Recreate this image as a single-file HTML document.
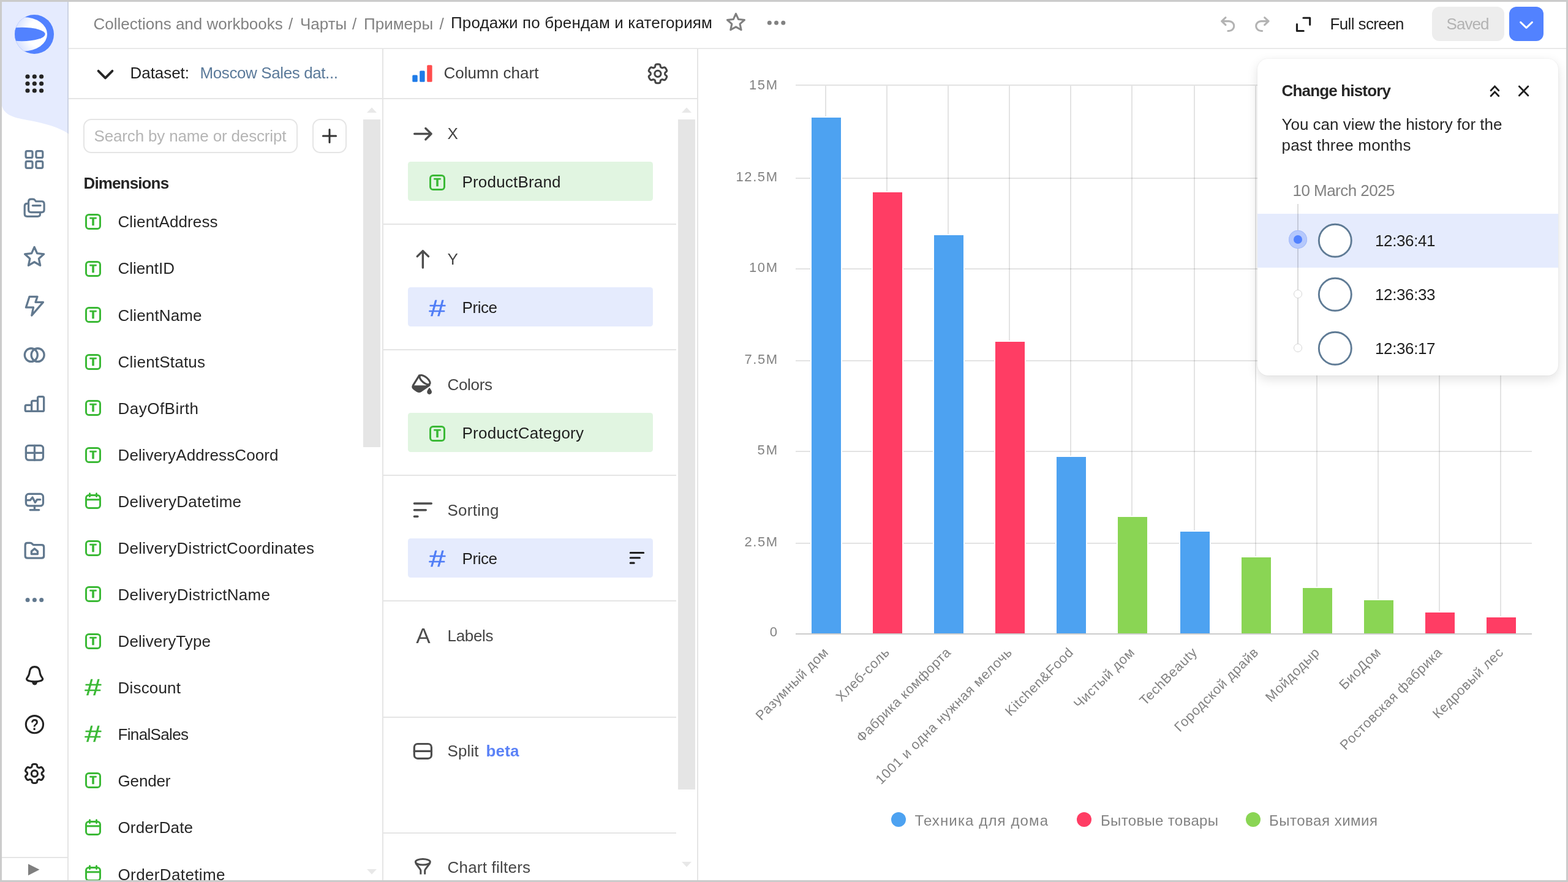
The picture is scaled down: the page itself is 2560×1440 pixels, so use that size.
<!DOCTYPE html>
<html lang="en"><head><meta charset="utf-8"><title>DataLens — Продажи по брендам и категориям</title>
<style>
html,body{margin:0;padding:0;}
body{width:2560px;height:1440px;overflow:hidden;background:#cbcbcb;font-family:"Liberation Sans", sans-serif;position:relative;}
.b{position:absolute;display:block;}
.t{position:absolute;white-space:nowrap;}
.ic *{vector-effect:non-scaling-stroke;}
#app{position:absolute;left:3px;top:3px;width:2554px;height:1434px;background:#fff;overflow:hidden;}
#root{position:absolute;left:-3px;top:-3px;width:2560px;height:1440px;}
</style></head><body><div id="app"><div id="root">
<div class="b" style="left:112px;top:78px;width:2445px;height:1px;background:#f0f0f0;"></div><div class="b" style="left:112px;top:79px;width:2445px;height:1px;background:#e3e3e3;"></div><div class="b" style="left:112px;top:160px;width:1027px;height:2px;background:#e5e5e5;"></div><div class="b" style="left:624px;top:80px;width:2px;height:1357px;background:#e5e5e5;"></div><div class="b" style="left:1138px;top:80px;width:2px;height:1357px;background:#e5e5e5;"></div><svg class="b" style="left:3px;top:3px" width="109" height="220" viewBox="0 0 109 220"><path d="M0 0H109V215.5C93 204.5 70 198.5 47 194C21 189.5 5 186 0 170Z" fill="#e5ebfe"/></svg><div class="b" style="left:110px;top:3px;width:2px;height:1434px;background:rgba(0,0,0,0.105);"></div><svg class="b" style="left:24px;top:24px" width="64" height="64" viewBox="0 0 64 64">
<defs><clipPath id="lc"><circle cx="32" cy="32" r="32"/></clipPath>
<radialGradient id="lg" gradientUnits="userSpaceOnUse" cx="44" cy="30" r="46"><stop offset="0" stop-color="#ffffff"/><stop offset="0.5" stop-color="#ffffff"/><stop offset="1" stop-color="#d3deff"/></radialGradient></defs>
<circle cx="32" cy="32" r="32" fill="#5282ff"/>
<g clip-path="url(#lc)"><ellipse cx="14.3" cy="31.8" rx="38.75" ry="27.9" fill="url(#lg)"/>
<ellipse cx="11.8" cy="31.9" rx="37.9" ry="11.25" fill="#5282ff"/></g></svg><svg class="b" style="left:0;top:0" width="112" height="160" viewBox="0 0 112 160" fill="#242424"><circle cx="45" cy="125" r="3.6"/><circle cx="56.3" cy="125" r="3.6"/><circle cx="67.6" cy="125" r="3.6"/><circle cx="45" cy="136.5" r="3.6"/><circle cx="56.3" cy="136.5" r="3.6"/><circle cx="67.6" cy="136.5" r="3.6"/><circle cx="45" cy="148" r="3.6"/><circle cx="56.3" cy="148" r="3.6"/><circle cx="67.6" cy="148" r="3.6"/></svg><svg class="b" style="left:0;top:0;font-family:'Liberation Sans',sans-serif;overflow:visible" width="10" height="10"><text transform="translate(56.45 1191.6) scale(0.84 1)" text-anchor="middle" font-size="25.6" font-weight="700" fill="#242424">?</text></svg><div class="b" style="left:3px;top:1399px;width:107px;height:2px;background:#e5e5e5;"></div><svg class="b" style="left:46px;top:1410px" width="19" height="20" viewBox="0 0 19 20"><path d="M0 0.5L18.5 9.8L0 19.2Z" fill="#7f7f7f"/></svg><div class="t" style="left:152.5px;top:25.99px;font-size:26px;line-height:26px;color:#828282;">Collections and workbooks</div><div class="t" style="left:471px;top:25.99px;font-size:26px;line-height:26px;color:#828282;">/</div><div class="t" style="left:490px;top:25.99px;font-size:26px;line-height:26px;color:#828282;">Чарты</div><div class="t" style="left:575px;top:25.99px;font-size:26px;line-height:26px;color:#828282;">/</div><div class="t" style="left:594px;top:25.99px;font-size:26px;line-height:26px;color:#828282;">Примеры</div><div class="t" style="left:717.5px;top:25.99px;font-size:26px;line-height:26px;color:#828282;">/</div><div class="t" style="left:736px;top:24.49px;font-size:26px;line-height:26px;color:#1f1f1f;letter-spacing:0.15px;">Продажи по брендам и категориям</div><div class="t" style="left:2171.5px;top:26.49px;font-size:26px;line-height:26px;color:#1f1f1f;letter-spacing:-0.616px;">Full screen</div><div class="b" style="left:2338px;top:11px;width:118px;height:56px;background:#ededed;border-radius:12px;"></div><div class="t" style="left:2361.5px;top:26.49px;font-size:26px;line-height:26px;color:#b3b3b3;letter-spacing:-0.931px;">Saved</div><div class="b" style="left:2464px;top:11px;width:56px;height:56px;background:#5282ff;border-radius:12px;"></div><svg class="b" style="left:2476px;top:24px" width="32" height="32" viewBox="0 0 16 16" fill="none" stroke="#fff" stroke-width="1.5" stroke-linecap="round" stroke-linejoin="round"><path d="M3.3 6.2L8 10.7L12.7 6.2"/></svg><svg class="b" style="left:156px;top:105px" width="32" height="32" viewBox="0 0 16 16" fill="none" stroke="#262626" stroke-width="1.95" stroke-linecap="round" stroke-linejoin="round"><path d="M2.3 5.4L8 11.2L13.7 5.4"/></svg><div class="t" style="left:212.5px;top:106.49px;font-size:26px;line-height:26px;color:#1f1f1f;letter-spacing:-0.047px;">Dataset:</div><div class="t" style="left:326.5px;top:106.49px;font-size:26px;line-height:26px;color:#5b7a9a;letter-spacing:-0.398px;">Moscow Sales dat...</div><div class="b" style="left:136px;top:194px;width:350px;height:56px;background:#fff;box-sizing:border-box;border:2px solid #e5e5e5;border-radius:13px;"></div><div class="t" style="left:153.5px;top:208.99px;font-size:26px;line-height:26px;color:#b5b5b5;letter-spacing:-0.157px;">Search by name or descript</div><div class="b" style="left:510px;top:194px;width:56px;height:56px;background:#fff;box-sizing:border-box;border:2px solid #e5e5e5;border-radius:13px;"></div><svg class="b" style="left:522px;top:206px" width="32" height="32" viewBox="0 0 16 16" fill="none" stroke="#333" stroke-width="1.5" stroke-linecap="round"><path d="M8 2.7V13.3M2.7 8H13.3"/></svg><div class="t" style="left:136.5px;top:285.59px;font-size:26px;line-height:26px;color:#262626;font-weight:700;letter-spacing:-0.864px;">Dimensions</div><div class="b" style="left:593px;top:195px;width:28px;height:535px;background:#e5e5e5;"></div><svg class="b" style="left:599px;top:175px" width="16" height="9" viewBox="0 0 16 9"><path d="M0 9L8 0.5L16 9Z" fill="#e8e8e8"/></svg><svg class="b" style="left:599px;top:1419px" width="16" height="9" viewBox="0 0 16 9"><path d="M0 0L8 8.5L16 0Z" fill="#e8e8e8"/></svg><div class="b" style="left:1107px;top:195px;width:28px;height:1094px;background:#e5e5e5;"></div><svg class="b" style="left:1113px;top:175px" width="16" height="9" viewBox="0 0 16 9"><path d="M0 9L8 0.5L16 9Z" fill="#e8e8e8"/></svg><svg class="b" style="left:1113px;top:1407px" width="16" height="9" viewBox="0 0 16 9"><path d="M0 0L8 8.5L16 0Z" fill="#e8e8e8"/></svg><svg class="b" style="left:136px;top:346.1px;font-family:'Liberation Sans',sans-serif" width="32" height="32" viewBox="0 0 16 16" fill="none" stroke="#3bb936" stroke-width="1.5" stroke-linecap="round" stroke-linejoin="round"><rect x="2.25" y="2.25" width="11.5" height="11.5" rx="2.3"/><text x="8" y="11.15" text-anchor="middle" font-size="9" font-weight="700" fill="#3bb936" stroke-width="0.36">T</text></svg><div class="t" style="left:192.5px;top:349.39px;font-size:26px;line-height:26px;color:#262626;letter-spacing:0.095px;">ClientAddress</div><svg class="b" style="left:136px;top:422.70000000000005px;font-family:'Liberation Sans',sans-serif" width="32" height="32" viewBox="0 0 16 16" fill="none" stroke="#3bb936" stroke-width="1.5" stroke-linecap="round" stroke-linejoin="round"><rect x="2.25" y="2.25" width="11.5" height="11.5" rx="2.3"/><text x="8" y="11.15" text-anchor="middle" font-size="9" font-weight="700" fill="#3bb936" stroke-width="0.36">T</text></svg><div class="t" style="left:192.5px;top:425.47px;font-size:26px;line-height:26px;color:#262626;letter-spacing:0.003px;">ClientID</div><svg class="b" style="left:136px;top:498.1px;font-family:'Liberation Sans',sans-serif" width="32" height="32" viewBox="0 0 16 16" fill="none" stroke="#3bb936" stroke-width="1.5" stroke-linecap="round" stroke-linejoin="round"><rect x="2.25" y="2.25" width="11.5" height="11.5" rx="2.3"/><text x="8" y="11.15" text-anchor="middle" font-size="9" font-weight="700" fill="#3bb936" stroke-width="0.36">T</text></svg><div class="t" style="left:192.5px;top:501.55px;font-size:26px;line-height:26px;color:#262626;letter-spacing:0.13px;">ClientName</div><svg class="b" style="left:136px;top:574.7px;font-family:'Liberation Sans',sans-serif" width="32" height="32" viewBox="0 0 16 16" fill="none" stroke="#3bb936" stroke-width="1.5" stroke-linecap="round" stroke-linejoin="round"><rect x="2.25" y="2.25" width="11.5" height="11.5" rx="2.3"/><text x="8" y="11.15" text-anchor="middle" font-size="9" font-weight="700" fill="#3bb936" stroke-width="0.36">T</text></svg><div class="t" style="left:192.5px;top:577.63px;font-size:26px;line-height:26px;color:#262626;letter-spacing:0.21px;">ClientStatus</div><svg class="b" style="left:136px;top:650.1px;font-family:'Liberation Sans',sans-serif" width="32" height="32" viewBox="0 0 16 16" fill="none" stroke="#3bb936" stroke-width="1.5" stroke-linecap="round" stroke-linejoin="round"><rect x="2.25" y="2.25" width="11.5" height="11.5" rx="2.3"/><text x="8" y="11.15" text-anchor="middle" font-size="9" font-weight="700" fill="#3bb936" stroke-width="0.36">T</text></svg><div class="t" style="left:192.5px;top:653.71px;font-size:26px;line-height:26px;color:#262626;letter-spacing:0.484px;">DayOfBirth</div><svg class="b" style="left:136px;top:726.7px;font-family:'Liberation Sans',sans-serif" width="32" height="32" viewBox="0 0 16 16" fill="none" stroke="#3bb936" stroke-width="1.5" stroke-linecap="round" stroke-linejoin="round"><rect x="2.25" y="2.25" width="11.5" height="11.5" rx="2.3"/><text x="8" y="11.15" text-anchor="middle" font-size="9" font-weight="700" fill="#3bb936" stroke-width="0.36">T</text></svg><div class="t" style="left:192.5px;top:729.79px;font-size:26px;line-height:26px;color:#262626;letter-spacing:0.1px;">DeliveryAddressCoord</div><svg class="b" style="left:136px;top:802.1px" width="32" height="32" viewBox="0 0 16 16" fill="none" stroke="#3bb936" stroke-width="1.5" stroke-linecap="round" stroke-linejoin="round"><rect x="2.25" y="3.25" width="11.5" height="10.5" rx="2.3"/><path d="M2.5 6.9H13.5M5.25 1.9V4.3M10.75 1.9V4.3"/></svg><div class="t" style="left:192.5px;top:805.87px;font-size:26px;line-height:26px;color:#262626;letter-spacing:0.237px;">DeliveryDatetime</div><svg class="b" style="left:136px;top:878.7px;font-family:'Liberation Sans',sans-serif" width="32" height="32" viewBox="0 0 16 16" fill="none" stroke="#3bb936" stroke-width="1.5" stroke-linecap="round" stroke-linejoin="round"><rect x="2.25" y="2.25" width="11.5" height="11.5" rx="2.3"/><text x="8" y="11.15" text-anchor="middle" font-size="9" font-weight="700" fill="#3bb936" stroke-width="0.36">T</text></svg><div class="t" style="left:192.5px;top:881.95px;font-size:26px;line-height:26px;color:#262626;letter-spacing:0.267px;">DeliveryDistrictCoordinates</div><svg class="b" style="left:136px;top:954.1px;font-family:'Liberation Sans',sans-serif" width="32" height="32" viewBox="0 0 16 16" fill="none" stroke="#3bb936" stroke-width="1.5" stroke-linecap="round" stroke-linejoin="round"><rect x="2.25" y="2.25" width="11.5" height="11.5" rx="2.3"/><text x="8" y="11.15" text-anchor="middle" font-size="9" font-weight="700" fill="#3bb936" stroke-width="0.36">T</text></svg><div class="t" style="left:192.5px;top:958.03px;font-size:26px;line-height:26px;color:#262626;letter-spacing:0.305px;">DeliveryDistrictName</div><svg class="b" style="left:136px;top:1030.6999999999998px;font-family:'Liberation Sans',sans-serif" width="32" height="32" viewBox="0 0 16 16" fill="none" stroke="#3bb936" stroke-width="1.5" stroke-linecap="round" stroke-linejoin="round"><rect x="2.25" y="2.25" width="11.5" height="11.5" rx="2.3"/><text x="8" y="11.15" text-anchor="middle" font-size="9" font-weight="700" fill="#3bb936" stroke-width="0.36">T</text></svg><div class="t" style="left:192.5px;top:1034.11px;font-size:26px;line-height:26px;color:#262626;letter-spacing:0.111px;">DeliveryType</div><svg class="b" style="left:0;top:0;font-family:'Liberation Sans',sans-serif;overflow:visible" width="10" height="10"><text transform="translate(138.56 1134.65) scale(1.32 1)" font-size="36.6" fill="#3bb936" stroke="#3bb936" stroke-width="0.5" stroke-linejoin="round">#</text></svg><div class="t" style="left:192.5px;top:1110.19px;font-size:26px;line-height:26px;color:#262626;letter-spacing:0.192px;">Discount</div><svg class="b" style="left:0;top:0;font-family:'Liberation Sans',sans-serif;overflow:visible" width="10" height="10"><text transform="translate(138.56 1211.25) scale(1.32 1)" font-size="36.6" fill="#3bb936" stroke="#3bb936" stroke-width="0.5" stroke-linejoin="round">#</text></svg><div class="t" style="left:192.5px;top:1186.27px;font-size:26px;line-height:26px;color:#262626;letter-spacing:-0.655px;">FinalSales</div><svg class="b" style="left:136px;top:1258.1px;font-family:'Liberation Sans',sans-serif" width="32" height="32" viewBox="0 0 16 16" fill="none" stroke="#3bb936" stroke-width="1.5" stroke-linecap="round" stroke-linejoin="round"><rect x="2.25" y="2.25" width="11.5" height="11.5" rx="2.3"/><text x="8" y="11.15" text-anchor="middle" font-size="9" font-weight="700" fill="#3bb936" stroke-width="0.36">T</text></svg><div class="t" style="left:192.5px;top:1262.35px;font-size:26px;line-height:26px;color:#262626;letter-spacing:-0.145px;">Gender</div><svg class="b" style="left:136px;top:1334.6999999999998px" width="32" height="32" viewBox="0 0 16 16" fill="none" stroke="#3bb936" stroke-width="1.5" stroke-linecap="round" stroke-linejoin="round"><rect x="2.25" y="3.25" width="11.5" height="10.5" rx="2.3"/><path d="M2.5 6.9H13.5M5.25 1.9V4.3M10.75 1.9V4.3"/></svg><div class="t" style="left:192.5px;top:1338.43px;font-size:26px;line-height:26px;color:#262626;letter-spacing:0.14px;">OrderDate</div><svg class="b" style="left:136px;top:1410.1px" width="32" height="32" viewBox="0 0 16 16" fill="none" stroke="#3bb936" stroke-width="1.5" stroke-linecap="round" stroke-linejoin="round"><rect x="2.25" y="3.25" width="11.5" height="10.5" rx="2.3"/><path d="M2.5 6.9H13.5M5.25 1.9V4.3M10.75 1.9V4.3"/></svg><div class="t" style="left:192.5px;top:1414.51px;font-size:26px;line-height:26px;color:#262626;letter-spacing:0.375px;">OrderDatetime</div><svg class="b" style="left:673px;top:106px" width="33" height="28" viewBox="0 0 33 28"><rect x="0.3" y="16.4" width="8.4" height="11.4" rx="1.6" fill="#1f7be8"/><rect x="12.2" y="9.4" width="8.4" height="18.4" rx="1.6" fill="#1f7be8"/><rect x="24.2" y="0.2" width="8.4" height="27.6" rx="1.6" fill="#ff4d4d"/></svg><div class="t" style="left:724.5px;top:106.49px;font-size:26px;line-height:26px;color:#3d3d3d;letter-spacing:0.034px;">Column chart</div><div class="t" style="left:730.5px;top:205.49px;font-size:26px;line-height:26px;color:#454545;">X</div><div class="b" style="left:666px;top:264.2px;width:400px;height:64px;background:#e1f5e1;border-radius:4.5px;"></div><svg class="b" style="left:698px;top:282.2px;font-family:'Liberation Sans',sans-serif" width="32" height="32" viewBox="0 0 16 16" fill="none" stroke="#3bb936" stroke-width="1.5" stroke-linecap="round" stroke-linejoin="round"><rect x="2.25" y="2.25" width="11.5" height="11.5" rx="2.3"/><text x="8" y="11.15" text-anchor="middle" font-size="9" font-weight="700" fill="#3bb936" stroke-width="0.36">T</text></svg><div class="t" style="left:754.5px;top:284.09px;font-size:26px;line-height:26px;color:#1f1f1f;letter-spacing:0.183px;">ProductBrand</div><div class="b" style="left:626px;top:365px;width:478px;height:2px;background:#e5e5e5;"></div><div class="t" style="left:730.5px;top:409.99px;font-size:26px;line-height:26px;color:#454545;">Y</div><div class="b" style="left:666px;top:469px;width:400px;height:64px;background:#e5ebfd;border-radius:4.5px;"></div><svg class="b" style="left:0;top:0;font-family:'Liberation Sans',sans-serif;overflow:visible" width="10" height="10"><text transform="translate(700.56 515.55) scale(1.32 1)" font-size="36.6" fill="#4f7df6" stroke="#4f7df6" stroke-width="0.5" stroke-linejoin="round">#</text></svg><div class="t" style="left:754.5px;top:488.89px;font-size:26px;line-height:26px;color:#1f1f1f;letter-spacing:-0.434px;">Price</div><div class="b" style="left:626px;top:570px;width:478px;height:2px;background:#e5e5e5;"></div><div class="t" style="left:730.5px;top:614.99px;font-size:26px;line-height:26px;color:#454545;letter-spacing:-0.327px;">Colors</div><div class="b" style="left:666px;top:674px;width:400px;height:64px;background:#e1f5e1;border-radius:4.5px;"></div><svg class="b" style="left:698px;top:692px;font-family:'Liberation Sans',sans-serif" width="32" height="32" viewBox="0 0 16 16" fill="none" stroke="#3bb936" stroke-width="1.5" stroke-linecap="round" stroke-linejoin="round"><rect x="2.25" y="2.25" width="11.5" height="11.5" rx="2.3"/><text x="8" y="11.15" text-anchor="middle" font-size="9" font-weight="700" fill="#3bb936" stroke-width="0.36">T</text></svg><div class="t" style="left:754.5px;top:693.89px;font-size:26px;line-height:26px;color:#1f1f1f;letter-spacing:0.242px;">ProductCategory</div><div class="b" style="left:626px;top:775px;width:478px;height:2px;background:#e5e5e5;"></div><div class="t" style="left:730.5px;top:819.99px;font-size:26px;line-height:26px;color:#454545;letter-spacing:0.27px;">Sorting</div><div class="b" style="left:666px;top:878.8px;width:400px;height:64px;background:#e5ebfd;border-radius:4.5px;"></div><svg class="b" style="left:0;top:0;font-family:'Liberation Sans',sans-serif;overflow:visible" width="10" height="10"><text transform="translate(700.56 925.35) scale(1.32 1)" font-size="36.6" fill="#4f7df6" stroke="#4f7df6" stroke-width="0.5" stroke-linejoin="round">#</text></svg><div class="t" style="left:754.5px;top:898.69px;font-size:26px;line-height:26px;color:#1f1f1f;letter-spacing:-0.434px;">Price</div><div class="b" style="left:626px;top:979.5px;width:478px;height:2px;background:#e5e5e5;"></div><div class="t" style="left:679.3px;top:1020.37px;font-size:35px;line-height:35px;color:#4d4d4d;">A</div><div class="t" style="left:730.5px;top:1024.99px;font-size:26px;line-height:26px;color:#454545;letter-spacing:-0.324px;">Labels</div><div class="b" style="left:626px;top:1170px;width:478px;height:2px;background:#e5e5e5;"></div><div class="t" style="left:730.5px;top:1213.49px;font-size:26px;line-height:26px;color:#454545;letter-spacing:0.105px;">Split</div><div class="t" style="left:793.5px;top:1213.49px;font-size:26px;line-height:26px;color:#5b82f7;font-weight:700;letter-spacing:0.18px;">beta</div><div class="b" style="left:626px;top:1359px;width:478px;height:2px;background:#e5e5e5;"></div><div class="t" style="left:730.5px;top:1402.99px;font-size:26px;line-height:26px;color:#454545;letter-spacing:0.215px;">Chart filters</div><svg class="b" style="left:0;top:0" width="2560" height="1440" viewBox="0 0 2560 1440"><rect x="1299" y="138" width="1202" height="2" fill="rgba(0,0,0,0.11)"/><rect x="1299" y="290" width="1202" height="2" fill="rgba(0,0,0,0.11)"/><rect x="1299" y="438" width="1202" height="2" fill="rgba(0,0,0,0.11)"/><rect x="1299" y="588" width="1202" height="2" fill="rgba(0,0,0,0.11)"/><rect x="1299" y="736" width="1202" height="2" fill="rgba(0,0,0,0.11)"/><rect x="1299" y="886" width="1202" height="2" fill="rgba(0,0,0,0.11)"/><rect x="1347" y="140" width="2" height="894" fill="rgba(0,0,0,0.11)"/><rect x="1447" y="140" width="2" height="894" fill="rgba(0,0,0,0.11)"/><rect x="1547" y="140" width="2" height="894" fill="rgba(0,0,0,0.11)"/><rect x="1647" y="140" width="2" height="894" fill="rgba(0,0,0,0.11)"/><rect x="1747" y="140" width="2" height="894" fill="rgba(0,0,0,0.11)"/><rect x="1847" y="140" width="2" height="894" fill="rgba(0,0,0,0.11)"/><rect x="1949" y="140" width="2" height="894" fill="rgba(0,0,0,0.11)"/><rect x="2049" y="140" width="2" height="894" fill="rgba(0,0,0,0.11)"/><rect x="2149" y="140" width="2" height="894" fill="rgba(0,0,0,0.11)"/><rect x="2249" y="140" width="2" height="894" fill="rgba(0,0,0,0.11)"/><rect x="2349" y="140" width="2" height="894" fill="rgba(0,0,0,0.11)"/><rect x="2449" y="140" width="2" height="894" fill="rgba(0,0,0,0.11)"/><rect x="1299" y="1034" width="1202" height="2" fill="#cccccc"/><rect x="1323" y="190" width="52" height="844" fill="#fff"/><rect x="1325" y="192" width="48" height="842" fill="#4da2f1"/><rect x="1423" y="312" width="52" height="722" fill="#fff"/><rect x="1425" y="314" width="48" height="720" fill="#ff3d64"/><rect x="1523" y="382" width="52" height="652" fill="#fff"/><rect x="1525" y="384" width="48" height="650" fill="#4da2f1"/><rect x="1623" y="556" width="52" height="478" fill="#fff"/><rect x="1625" y="558" width="48" height="476" fill="#ff3d64"/><rect x="1723" y="744" width="52" height="290" fill="#fff"/><rect x="1725" y="746" width="48" height="288" fill="#4da2f1"/><rect x="1823" y="842" width="52" height="192" fill="#fff"/><rect x="1825" y="844" width="48" height="190" fill="#8ad554"/><rect x="1925" y="866" width="52" height="168" fill="#fff"/><rect x="1927" y="868" width="48" height="166" fill="#4da2f1"/><rect x="2025" y="908" width="52" height="126" fill="#fff"/><rect x="2027" y="910" width="48" height="124" fill="#8ad554"/><rect x="2125" y="958" width="52" height="76" fill="#fff"/><rect x="2127" y="960" width="48" height="74" fill="#8ad554"/><rect x="2225" y="978" width="52" height="56" fill="#fff"/><rect x="2227" y="980" width="48" height="54" fill="#8ad554"/><rect x="2325" y="998" width="52" height="36" fill="#fff"/><rect x="2327" y="1000" width="48" height="34" fill="#ff3d64"/><rect x="2425" y="1006" width="52" height="28" fill="#fff"/><rect x="2427" y="1008" width="48" height="26" fill="#ff3d64"/></svg><div class="t" style="right:1289.399px;top:127.63px;font-size:22px;line-height:22px;color:#828282;letter-spacing:1.601px;">15M</div><div class="t" style="right:1289.412px;top:277.63px;font-size:22px;line-height:22px;color:#828282;letter-spacing:1.588px;">12.5M</div><div class="t" style="right:1289.399px;top:425.88px;font-size:22px;line-height:22px;color:#828282;letter-spacing:1.601px;">10M</div><div class="t" style="right:1289.47px;top:575.88px;font-size:22px;line-height:22px;color:#828282;letter-spacing:1.53px;">7.5M</div><div class="t" style="right:1289.062px;top:723.88px;font-size:22px;line-height:22px;color:#828282;letter-spacing:1.938px;">5M</div><div class="t" style="right:1289.47px;top:873.88px;font-size:22px;line-height:22px;color:#828282;letter-spacing:1.53px;">2.5M</div><div class="t" style="right:1291px;top:1021.38px;font-size:22px;line-height:22px;color:#828282;">0</div><svg class="b" style="left:0;top:0;font-size:22px;font-family:'Liberation Sans',sans-serif" width="2560" height="1440" viewBox="0 0 2560 1440" fill="#828282"><text x="1354" y="1066.2" text-anchor="end" transform="rotate(-45 1354 1066.2)" letter-spacing="0.75">Разумный дом</text><text x="1454" y="1066.2" text-anchor="end" transform="rotate(-45 1454 1066.2)" letter-spacing="0.75">Хлеб-соль</text><text x="1554" y="1066.2" text-anchor="end" transform="rotate(-45 1554 1066.2)" letter-spacing="0.75">Фабрика комфорта</text><text x="1654" y="1066.2" text-anchor="end" transform="rotate(-45 1654 1066.2)" letter-spacing="0.85">1001 и одна нужная мелочь</text><text x="1754" y="1066.2" text-anchor="end" transform="rotate(-45 1754 1066.2)" letter-spacing="0.75">Kitchen&amp;Food</text><text x="1854" y="1066.2" text-anchor="end" transform="rotate(-45 1854 1066.2)" letter-spacing="0.75">Чистый дом</text><text x="1956" y="1066.2" text-anchor="end" transform="rotate(-45 1956 1066.2)" letter-spacing="0.75">TechBeauty</text><text x="2056" y="1066.2" text-anchor="end" transform="rotate(-45 2056 1066.2)" letter-spacing="0.75">Городской драйв</text><text x="2156" y="1066.2" text-anchor="end" transform="rotate(-45 2156 1066.2)" letter-spacing="0.75">Мойдодыр</text><text x="2256" y="1066.2" text-anchor="end" transform="rotate(-45 2256 1066.2)" letter-spacing="0.75">БиоДом</text><text x="2356" y="1066.2" text-anchor="end" transform="rotate(-45 2356 1066.2)" letter-spacing="0.75">Ростовская фабрика</text><text x="2456" y="1066.2" text-anchor="end" transform="rotate(-45 2456 1066.2)" letter-spacing="0.75">Кедровый лес</text></svg><div class="b" style="left:1455px;top:1326px;width:24px;height:24px;background:#4da2f1;border-radius:50%;"></div><div class="t" style="left:1493.5px;top:1327.68px;font-size:24px;line-height:24px;color:#828282;letter-spacing:1.119px;">Техника для дома</div><div class="b" style="left:1758px;top:1326px;width:24px;height:24px;background:#ff3d64;border-radius:50%;"></div><div class="t" style="left:1797px;top:1327.68px;font-size:24px;line-height:24px;color:#828282;letter-spacing:0.34px;">Бытовые товары</div><div class="b" style="left:2034px;top:1326px;width:24px;height:24px;background:#8ad554;border-radius:50%;"></div><div class="t" style="left:2072px;top:1327.68px;font-size:24px;line-height:24px;color:#828282;letter-spacing:0.51px;">Бытовая химия</div><div class="b" style="left:2053px;top:96px;width:491px;height:517px;background:#fff;border-radius:17px;box-shadow:0 6px 18px rgba(0,0,0,0.12),0 0 2px rgba(0,0,0,0.08);"></div><div class="t" style="left:2092.5px;top:134.99px;font-size:26px;line-height:26px;color:#262626;font-weight:700;letter-spacing:-0.827px;">Change history</div><div class="t" style="left:2092.5px;top:190.29px;font-size:26px;line-height:26px;color:#262626;letter-spacing:-0.012px;">You can view the history for the</div><div class="t" style="left:2092.5px;top:224.29px;font-size:26px;line-height:26px;color:#262626;letter-spacing:0.18px;">past three months</div><div class="t" style="left:2110.5px;top:298.19px;font-size:26px;line-height:26px;color:#828282;letter-spacing:-0.537px;">10 March 2025</div><div class="b" style="left:2053px;top:349px;width:491px;height:87.5px;background:#e5ebfd;"></div><div class="b" style="left:2118.2px;top:333px;width:2px;height:232px;background:rgba(0,0,0,0.14);"></div><div class="b" style="left:2104.2px;top:376px;width:30px;height:30px;background:#b5c8fc;border-radius:50%;box-shadow:inset 0 0 0 1px #a3baf9;"></div><div class="b" style="left:2111.9px;top:383.6px;width:14.6px;height:14.6px;background:#5282ff;border-radius:50%;"></div><div class="b" style="left:2112.2px;top:472.5px;width:14px;height:14px;background:#fff;box-sizing:border-box;border:1.5px solid #d6d6d6;border-radius:50%;"></div><div class="b" style="left:2112.2px;top:560.5px;width:14px;height:14px;background:#fff;box-sizing:border-box;border:1.5px solid #d6d6d6;border-radius:50%;"></div><div class="t" style="left:2245px;top:380.09px;font-size:26px;line-height:26px;color:#1f1f1f;letter-spacing:-0.387px;">12:36:41</div><div class="t" style="left:2245px;top:468.09px;font-size:26px;line-height:26px;color:#1f1f1f;letter-spacing:-0.387px;">12:36:33</div><div class="t" style="left:2245px;top:556.09px;font-size:26px;line-height:26px;color:#1f1f1f;letter-spacing:-0.387px;">12:36:17</div><svg class="b ic" style="left:0;top:0" width="2560" height="1440" viewBox="0 0 2560 1440"><g transform="translate(30.392 236.369) scale(0.03693 0.03693)" stroke="#62798f" stroke-width="3.2" fill="none" stroke-linecap="round" stroke-linejoin="round"><rect x="317" y="277" width="295" height="295" rx="62"/><rect x="772" y="277" width="295" height="295" rx="62"/><rect x="317" y="732" width="295" height="295" rx="62"/><rect x="772" y="732" width="295" height="295" rx="62"/></g><g transform="translate(29.879 313.960) scale(0.03753 0.03747)" stroke="#62798f" stroke-width="3.2" fill="none" stroke-linecap="round" stroke-linejoin="round"><path d="M445 760V410Q445 300 555 300H640Q690 300 725 345L765 395H1015Q1125 395 1125 505V760Q1125 870 1015 870H555Q445 870 445 760Z"/><path d="M410 490H385Q275 490 275 600V940Q275 1050 385 1050H840Q950 1050 950 940V900"/><path d="M625 578H965"/></g><g transform="translate(56.100 419.934) scale(0.16349 0.16584)" stroke="#62798f" stroke-width="3.3" fill="none" stroke-linecap="round" stroke-linejoin="round"><path d="M0.00 -100.00L27.63 -38.02L95.11 -30.90L44.70 14.52L58.78 80.90L0.00 47.00L-58.78 80.90L-44.70 14.52L-95.11 -30.90L-27.63 -38.02Z"/></g><g transform="translate(28.282 393.098) scale(0.09350 0.09345)" stroke="#62798f" stroke-width="3.3" fill="none" stroke-linecap="round" stroke-linejoin="round"><path d="M212 976H350L318 1073H451L252 1304L280 1165H151Z"/></g><g transform="translate(28.311 555.596) scale(0.09327 0.09602)" stroke="#62798f" stroke-width="3.3" fill="none" stroke-linecap="round" stroke-linejoin="round"><circle cx="241" cy="250" r="113"/><circle cx="357" cy="250" r="113"/></g><g transform="translate(28.239 557.178) scale(0.09356 0.09336)" stroke="#62798f" stroke-width="3.3" fill="none" stroke-linecap="round" stroke-linejoin="round"><path d="M162 1224H440Q464 1224 464 1200V992Q464 968 440 968H380Q356 968 356 992V1041H274Q250 1041 250 1065V1116H162Q138 1116 138 1140V1200Q138 1224 162 1224Z"/><path d="M250 1116V1224M356 1041V1224"/></g><g transform="translate(28.282 716.243) scale(0.09350 0.09333)" stroke="#62798f" stroke-width="3.3" fill="none" stroke-linecap="round" stroke-linejoin="round"><rect x="151" y="119" width="300" height="255" rx="50"/><path d="M301 119V374M151 247H451"/></g><g transform="translate(28.282 717.018) scale(0.09350 0.09355)" stroke="#62798f" stroke-width="3.3" fill="none" stroke-linecap="round" stroke-linejoin="round"><rect x="151" y="956" width="300" height="208" rx="50"/><path d="M301 1164V1235M223 1235H379M151 1065H225L265 1015L312 1105L345 1055H400"/></g><g transform="translate(28.239 872.297) scale(0.09356 0.09340)" stroke="#62798f" stroke-width="3.3" fill="none" stroke-linecap="round" stroke-linejoin="round"><path d="M138 376V191Q138 151 178 151H225Q245 151 258 165L280 186H424Q464 186 464 226V376Q464 416 424 416H178Q138 416 138 376Z"/><path d="M301 252L355 298V345H247V298Z"/></g><g transform="translate(0.000 0.000) scale(1.00000)" stroke="none" stroke-width="0" fill="#62798f" stroke-linecap="round" stroke-linejoin="round"><circle cx="45.1" cy="979.5" r="3.5"/><circle cx="56.4" cy="979.5" r="3.5"/><circle cx="67.7" cy="979.5" r="3.5"/></g><g transform="translate(27.656 1076.009) scale(0.09656 0.09433)" stroke="#242424" stroke-width="3.1" fill="none" stroke-linecap="round" stroke-linejoin="round"><path d="M300 134C250 134 222 165 215 215C210 255 205 285 175 320C155 345 165 368 195 375C260 392 340 392 405 375C435 368 445 345 425 320C395 285 390 255 385 215C378 165 350 134 300 134Z"/><path d="M268 398Q300 404 332 398Q322 434 300 434Q278 434 268 398Z" fill="#242424"/></g><g transform="translate(28.081 1076.857) scale(0.09417 0.09367)" stroke="#242424" stroke-width="3.1" fill="none" stroke-linecap="round" stroke-linejoin="round"><circle cx="301" cy="1130" r="150"/></g><g transform="translate(56.375 1263.000) scale(1.03238 1.00980)" stroke="#242424" stroke-width="3.1" fill="none" stroke-linecap="round" stroke-linejoin="round"><path d="M11.40 0.00L11.40 -0.30L11.42 -0.60L11.45 -0.90L11.52 -1.21L11.67 -1.54L11.93 -1.89L12.36 -2.29L12.95 -2.75L13.57 -3.26L14.04 -3.76L14.29 -4.23L14.36 -4.67L14.33 -5.07L14.24 -5.47L14.11 -5.85L13.97 -6.22L13.80 -6.58L13.63 -6.95L13.45 -7.30L13.25 -7.65L13.04 -7.99L12.83 -8.33L12.60 -8.66L12.37 -8.99L12.12 -9.30L11.85 -9.60L11.56 -9.87L11.22 -10.10L10.81 -10.26L10.28 -10.28L9.61 -10.12L8.86 -9.84L8.16 -9.56L7.60 -9.38L7.16 -9.33L6.81 -9.37L6.51 -9.47L6.23 -9.59L5.96 -9.73L5.70 -9.87L5.44 -10.03L5.19 -10.19L4.95 -10.37L4.71 -10.59L4.50 -10.87L4.33 -11.27L4.20 -11.85L4.09 -12.59L3.96 -13.38L3.76 -14.04L3.48 -14.49L3.14 -14.77L2.77 -14.95L2.39 -15.06L1.99 -15.15L1.60 -15.20L1.20 -15.25L0.80 -15.28L0.40 -15.29L0.00 -15.30L-0.40 -15.29L-0.80 -15.28L-1.20 -15.25L-1.60 -15.20L-1.99 -15.15L-2.39 -15.06L-2.77 -14.95L-3.14 -14.77L-3.48 -14.49L-3.76 -14.04L-3.96 -13.38L-4.09 -12.59L-4.20 -11.85L-4.33 -11.27L-4.50 -10.87L-4.71 -10.59L-4.95 -10.37L-5.19 -10.19L-5.44 -10.03L-5.70 -9.87L-5.96 -9.73L-6.23 -9.59L-6.51 -9.47L-6.81 -9.37L-7.16 -9.33L-7.60 -9.38L-8.16 -9.56L-8.86 -9.84L-9.61 -10.12L-10.28 -10.28L-10.81 -10.26L-11.22 -10.10L-11.56 -9.87L-11.85 -9.60L-12.12 -9.30L-12.37 -8.99L-12.60 -8.66L-12.83 -8.33L-13.04 -7.99L-13.25 -7.65L-13.45 -7.30L-13.63 -6.95L-13.80 -6.58L-13.97 -6.22L-14.11 -5.85L-14.24 -5.47L-14.33 -5.07L-14.36 -4.67L-14.29 -4.23L-14.04 -3.76L-13.57 -3.26L-12.95 -2.75L-12.36 -2.29L-11.93 -1.89L-11.67 -1.54L-11.52 -1.21L-11.45 -0.90L-11.42 -0.60L-11.40 -0.30L-11.40 -0.00L-11.40 0.30L-11.42 0.60L-11.45 0.90L-11.52 1.21L-11.67 1.54L-11.93 1.89L-12.36 2.29L-12.95 2.75L-13.57 3.26L-14.04 3.76L-14.29 4.23L-14.36 4.67L-14.33 5.07L-14.24 5.47L-14.11 5.85L-13.97 6.22L-13.80 6.58L-13.63 6.95L-13.45 7.30L-13.25 7.65L-13.04 7.99L-12.83 8.33L-12.60 8.66L-12.37 8.99L-12.12 9.30L-11.85 9.60L-11.56 9.87L-11.22 10.10L-10.81 10.26L-10.28 10.28L-9.61 10.12L-8.86 9.84L-8.16 9.56L-7.60 9.38L-7.16 9.33L-6.81 9.37L-6.51 9.47L-6.23 9.59L-5.96 9.73L-5.70 9.87L-5.44 10.03L-5.19 10.19L-4.95 10.37L-4.71 10.59L-4.50 10.87L-4.33 11.27L-4.20 11.85L-4.09 12.59L-3.96 13.38L-3.76 14.04L-3.48 14.49L-3.14 14.77L-2.77 14.95L-2.39 15.06L-1.99 15.15L-1.60 15.20L-1.20 15.25L-0.80 15.28L-0.40 15.29L-0.00 15.30L0.40 15.29L0.80 15.28L1.20 15.25L1.60 15.20L1.99 15.15L2.39 15.06L2.77 14.95L3.14 14.77L3.48 14.49L3.76 14.04L3.96 13.38L4.09 12.59L4.20 11.85L4.33 11.27L4.50 10.87L4.71 10.59L4.95 10.37L5.19 10.19L5.44 10.03L5.70 9.87L5.96 9.73L6.23 9.59L6.51 9.47L6.81 9.37L7.16 9.33L7.60 9.38L8.16 9.56L8.86 9.84L9.61 10.12L10.28 10.28L10.81 10.26L11.22 10.10L11.56 9.87L11.85 9.60L12.12 9.30L12.37 8.99L12.60 8.66L12.83 8.33L13.04 7.99L13.25 7.65L13.45 7.30L13.63 6.95L13.80 6.58L13.97 6.22L14.11 5.85L14.24 5.47L14.33 5.07L14.36 4.67L14.29 4.23L14.04 3.76L13.57 3.26L12.95 2.75L12.36 2.29L11.93 1.89L11.67 1.54L11.52 1.21L11.45 0.90L11.42 0.60L11.40 0.30Z"/></g><g transform="translate(0.000 0.000) scale(1.00000)" stroke="#242424" stroke-width="3.1" fill="none" stroke-linecap="round" stroke-linejoin="round"><circle cx="56.4" cy="1263" r="5.1"/></g><g transform="translate(1201.450 36.988) scale(0.14720 0.14538)" stroke="#808080" stroke-width="3.1" fill="none" stroke-linecap="round" stroke-linejoin="round"><path d="M0.00 -100.00L27.63 -38.02L95.11 -30.90L44.70 14.52L58.78 80.90L0.00 47.00L-58.78 80.90L-44.70 14.52L-95.11 -30.90L-27.63 -38.02Z"/></g><g transform="translate(0.000 0.000) scale(1.00000)" stroke="none" stroke-width="0" fill="#828282" stroke-linecap="round" stroke-linejoin="round"><circle cx="1256.3" cy="37.2" r="3.5"/><circle cx="1267.5" cy="37.2" r="3.5"/><circle cx="1278.8" cy="37.2" r="3.5"/></g><g transform="translate(1980.068 1.364) scale(0.07882 0.07552)" stroke="#b3b3b3" stroke-width="3.1" fill="none" stroke-linecap="round" stroke-linejoin="round"><path d="M265 360L185 440L265 520M185 440H335A105 105 0 0 1 335 650H315"/></g><g transform="translate(1977.850 1.364) scale(0.08000 0.07552)" stroke="#b3b3b3" stroke-width="3.1" fill="none" stroke-linecap="round" stroke-linejoin="round"><path d="M1085 360L1165 440L1085 520M1165 440H1015A105 105 0 0 0 1015 650H1035"/></g><g transform="translate(1976.490 -0.990) scale(0.08000 0.08000)" stroke="#1f1f1f" stroke-width="3.1" fill="none" stroke-linecap="round" stroke-linejoin="round"><path d="M1893 378H2027V517M1762 508V643H1897"/></g><g transform="translate(1073.950 120.300) scale(1.02368 1.00980)" stroke="#444444" stroke-width="3.1" fill="none" stroke-linecap="round" stroke-linejoin="round"><path d="M11.40 0.00L11.40 -0.30L11.42 -0.60L11.45 -0.90L11.52 -1.21L11.67 -1.54L11.93 -1.89L12.36 -2.29L12.95 -2.75L13.57 -3.26L14.04 -3.76L14.29 -4.23L14.36 -4.67L14.33 -5.07L14.24 -5.47L14.11 -5.85L13.97 -6.22L13.80 -6.58L13.63 -6.95L13.45 -7.30L13.25 -7.65L13.04 -7.99L12.83 -8.33L12.60 -8.66L12.37 -8.99L12.12 -9.30L11.85 -9.60L11.56 -9.87L11.22 -10.10L10.81 -10.26L10.28 -10.28L9.61 -10.12L8.86 -9.84L8.16 -9.56L7.60 -9.38L7.16 -9.33L6.81 -9.37L6.51 -9.47L6.23 -9.59L5.96 -9.73L5.70 -9.87L5.44 -10.03L5.19 -10.19L4.95 -10.37L4.71 -10.59L4.50 -10.87L4.33 -11.27L4.20 -11.85L4.09 -12.59L3.96 -13.38L3.76 -14.04L3.48 -14.49L3.14 -14.77L2.77 -14.95L2.39 -15.06L1.99 -15.15L1.60 -15.20L1.20 -15.25L0.80 -15.28L0.40 -15.29L0.00 -15.30L-0.40 -15.29L-0.80 -15.28L-1.20 -15.25L-1.60 -15.20L-1.99 -15.15L-2.39 -15.06L-2.77 -14.95L-3.14 -14.77L-3.48 -14.49L-3.76 -14.04L-3.96 -13.38L-4.09 -12.59L-4.20 -11.85L-4.33 -11.27L-4.50 -10.87L-4.71 -10.59L-4.95 -10.37L-5.19 -10.19L-5.44 -10.03L-5.70 -9.87L-5.96 -9.73L-6.23 -9.59L-6.51 -9.47L-6.81 -9.37L-7.16 -9.33L-7.60 -9.38L-8.16 -9.56L-8.86 -9.84L-9.61 -10.12L-10.28 -10.28L-10.81 -10.26L-11.22 -10.10L-11.56 -9.87L-11.85 -9.60L-12.12 -9.30L-12.37 -8.99L-12.60 -8.66L-12.83 -8.33L-13.04 -7.99L-13.25 -7.65L-13.45 -7.30L-13.63 -6.95L-13.80 -6.58L-13.97 -6.22L-14.11 -5.85L-14.24 -5.47L-14.33 -5.07L-14.36 -4.67L-14.29 -4.23L-14.04 -3.76L-13.57 -3.26L-12.95 -2.75L-12.36 -2.29L-11.93 -1.89L-11.67 -1.54L-11.52 -1.21L-11.45 -0.90L-11.42 -0.60L-11.40 -0.30L-11.40 -0.00L-11.40 0.30L-11.42 0.60L-11.45 0.90L-11.52 1.21L-11.67 1.54L-11.93 1.89L-12.36 2.29L-12.95 2.75L-13.57 3.26L-14.04 3.76L-14.29 4.23L-14.36 4.67L-14.33 5.07L-14.24 5.47L-14.11 5.85L-13.97 6.22L-13.80 6.58L-13.63 6.95L-13.45 7.30L-13.25 7.65L-13.04 7.99L-12.83 8.33L-12.60 8.66L-12.37 8.99L-12.12 9.30L-11.85 9.60L-11.56 9.87L-11.22 10.10L-10.81 10.26L-10.28 10.28L-9.61 10.12L-8.86 9.84L-8.16 9.56L-7.60 9.38L-7.16 9.33L-6.81 9.37L-6.51 9.47L-6.23 9.59L-5.96 9.73L-5.70 9.87L-5.44 10.03L-5.19 10.19L-4.95 10.37L-4.71 10.59L-4.50 10.87L-4.33 11.27L-4.20 11.85L-4.09 12.59L-3.96 13.38L-3.76 14.04L-3.48 14.49L-3.14 14.77L-2.77 14.95L-2.39 15.06L-1.99 15.15L-1.60 15.20L-1.20 15.25L-0.80 15.28L-0.40 15.29L-0.00 15.30L0.40 15.29L0.80 15.28L1.20 15.25L1.60 15.20L1.99 15.15L2.39 15.06L2.77 14.95L3.14 14.77L3.48 14.49L3.76 14.04L3.96 13.38L4.09 12.59L4.20 11.85L4.33 11.27L4.50 10.87L4.71 10.59L4.95 10.37L5.19 10.19L5.44 10.03L5.70 9.87L5.96 9.73L6.23 9.59L6.51 9.47L6.81 9.37L7.16 9.33L7.60 9.38L8.16 9.56L8.86 9.84L9.61 10.12L10.28 10.28L10.81 10.26L11.22 10.10L11.56 9.87L11.85 9.60L12.12 9.30L12.37 8.99L12.60 8.66L12.83 8.33L13.04 7.99L13.25 7.65L13.45 7.30L13.63 6.95L13.80 6.58L13.97 6.22L14.11 5.85L14.24 5.47L14.33 5.07L14.36 4.67L14.29 4.23L14.04 3.76L13.57 3.26L12.95 2.75L12.36 2.29L11.93 1.89L11.67 1.54L11.52 1.21L11.45 0.90L11.42 0.60L11.40 0.30Z"/></g><g transform="translate(0.000 0.000) scale(1.00000)" stroke="#444444" stroke-width="3.1" fill="none" stroke-linecap="round" stroke-linejoin="round"><circle cx="1073.95" cy="120.35" r="5.1"/></g><g transform="translate(663.850 195.991) scale(0.03779 0.03753)" stroke="#4d4d4d" stroke-width="3.4" fill="none" stroke-linecap="round" stroke-linejoin="round"><path d="M340 600H1060M820 360L1065 600L820 845"/></g><g transform="translate(663.843 400.059) scale(0.03773 0.03741)" stroke="#4d4d4d" stroke-width="3.4" fill="none" stroke-linecap="round" stroke-linejoin="round"><path d="M703 990V255M460 497L703 255L945 497"/></g><g transform="translate(660.000 596.000) scale(0.04167)" stroke="none" stroke-width="0" fill="none" stroke-linecap="round" stroke-linejoin="round"><path d="M590 405L350 790C320 850 335 900 385 935L495 1015C545 1050 600 1050 660 1015L985 790" fill="none" stroke="#4a4a4a" stroke-width="3.1"/><ellipse cx="805" cy="580" rx="250" ry="112" transform="rotate(40 805 580)" fill="none" stroke="#4a4a4a" stroke-width="3.1"/><path d="M350 800H830L985 770L995 800L660 1030C600 1062 545 1062 495 1030L375 945C320 905 315 850 350 800Z" fill="#4a4a4a"/><path d="M985 880C940 940 893 1000 893 1052C893 1110 935 1150 985 1150C1035 1150 1080 1110 1080 1052C1080 1000 1030 940 985 880Z" fill="#4a4a4a"/></g><g transform="translate(663.994 807.871) scale(0.03752 0.03754)" stroke="#4d4d4d" stroke-width="3.5" fill="none" stroke-linecap="round" stroke-linejoin="round"><path d="M332 375H1073M332 660H833M332 945H478"/></g><g transform="translate(1029.250 902.450) scale(0.89167 1.01212)" stroke="#1f1f1f" stroke-width="3.1" fill="none" stroke-linecap="round" stroke-linejoin="round"><path d="M0 0H24M0 8.2H17M0 16.5H6.6"/></g><g transform="translate(664.011 1201.999) scale(0.03747 0.03754)" stroke="#4d4d4d" stroke-width="3.2" fill="none" stroke-linecap="round" stroke-linejoin="round"><rect x="328" y="333" width="750" height="634" rx="150"/><path d="M328 650H1078"/></g><g transform="translate(660.015 1385.091) scale(0.03677 0.03468)" stroke="#4d4d4d" stroke-width="3.0" fill="none" stroke-linecap="butt" stroke-linejoin="round"><ellipse cx="825" cy="640" rx="325" ry="138"/><path d="M505 690L705 980Q730 1015 730 1050V1220M1145 690L940 980Q915 1015 915 1050V1220"/></g><g transform="translate(2410.968 119.691) scale(0.04536 0.04758)" stroke="#1f1f1f" stroke-width="2.8" fill="none" stroke-linecap="round" stroke-linejoin="miter"><path d="M510 590L650 450L790 590M510 780L650 640L790 780"/></g><g transform="translate(2409.655 119.957) scale(0.04710 0.04698)" stroke="#1f1f1f" stroke-width="2.8" fill="none" stroke-linecap="round" stroke-linejoin="round"><path d="M1500 450L1810 765M1810 450L1500 765"/></g><g transform="translate(0.000 0.000) scale(1.00000)" stroke="#5f7b95" stroke-width="2.9" fill="#fff" stroke-linecap="round" stroke-linejoin="round"><circle cx="2179.8" cy="392.8" r="26.5"/></g><g transform="translate(0.000 0.000) scale(1.00000)" stroke="#5f7b95" stroke-width="2.9" fill="#fff" stroke-linecap="round" stroke-linejoin="round"><circle cx="2179.8" cy="480.8" r="26.5"/></g><g transform="translate(0.000 0.000) scale(1.00000)" stroke="#5f7b95" stroke-width="2.9" fill="#fff" stroke-linecap="round" stroke-linejoin="round"><circle cx="2179.8" cy="568.8" r="26.5"/></g></svg>
</div></div>
<script>(function(){var w=window.innerWidth;if(w&&Math.abs(w-2560)>2){document.body.style.zoom=String(w/2560);}})();</script>
</body></html>
